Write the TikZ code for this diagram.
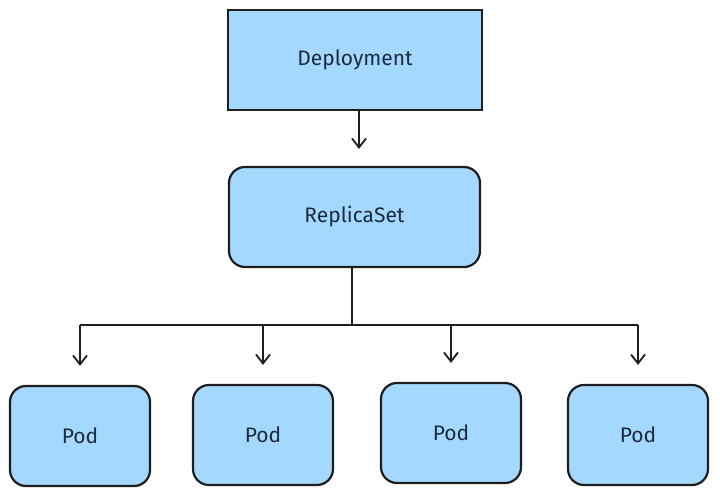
\documentclass[tikz,border=0pt]{standalone}
\usepackage{fontspec}
\setmainfont{Fira Sans}
\usetikzlibrary{arrows.meta}
\definecolor{boxfill}{HTML}{A5D8FF}
\definecolor{ink}{HTML}{1E1E1E}
\definecolor{txt}{HTML}{1B2B3D}
\begin{document}
\begin{tikzpicture}[x=1pt,y=-1pt,
  boxbase/.style={draw=ink,fill=boxfill,line width=2.2pt,text=txt,font=\fontsize{21}{24}\selectfont},
  sharpbox/.style={boxbase,rectangle,minimum width=254pt,minimum height=100pt,line width=2.8pt},
  roundbox/.style={boxbase,rectangle,rounded corners=16pt,minimum width=251pt,minimum height=100pt},
  podbox/.style={boxbase,rectangle,rounded corners=16pt,minimum width=140pt,minimum height=100pt},
  conn/.style={draw=ink,line width=1.8pt},
  arr/.style={conn,-{Straight Barb[length=9pt,width=14pt,line width=1.8pt]}}]
\useasboundingbox (0,0) rectangle (720,498);
\node[sharpbox] (dep) at (355,60) {Deployment};
\node[roundbox] (rs) at (354.5,217) {ReplicaSet};
\node[podbox] (p1) at (80,436) {Pod};
\node[podbox] (p2) at (263,435) {Pod};
\node[podbox] (p3) at (451,433) {Pod};
\node[podbox] (p4) at (638,435) {Pod};
\coordinate (bus) at (352,325);
\draw[arr,shorten >=17pt] ([xshift=4pt]dep.south) -- ([xshift=4pt]dep.south |- rs.north);
\draw[conn] (rs.south -| bus) -- (bus);
\draw[conn] (p1.north |- bus) -- (p4.north |- bus);
\foreach \p in {p1,p2,p3,p4}{
  \draw[arr,shorten >=19pt] (\p.north |- bus) -- (\p.north);
}
\end{tikzpicture}
\end{document}
